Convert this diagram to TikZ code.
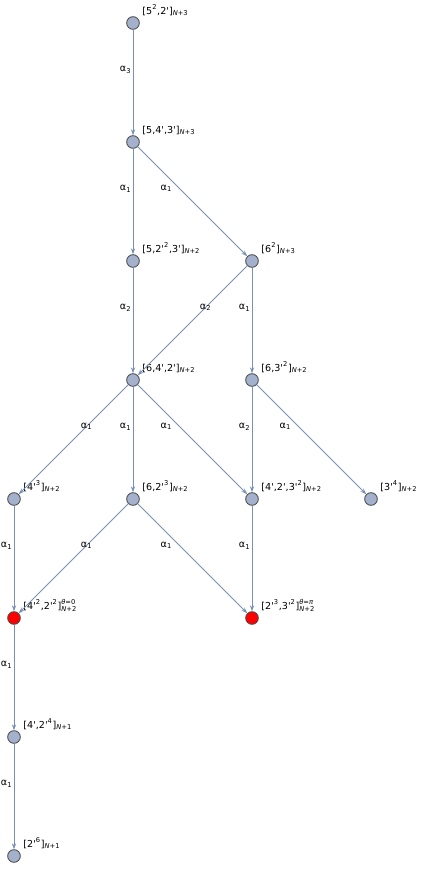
\documentclass[tikz,border=0pt]{standalone}
\usepackage{fontspec}
\newfontfamily\grfont{DejaVu Sans}
\usetikzlibrary{arrows.meta}
\definecolor{vtxfill}{HTML}{A3B1CC}
\definecolor{edgecol}{HTML}{7890B6}
\newcommand{\Nsub}[1]{\textsubscript{\textit{N}+#1}}
\newcommand{\supsub}[2]{\rlap{\raisebox{0.7pt}{\textsuperscript{#1}}}\raisebox{-0.7pt}{\textsubscript{#2}}}
\newcommand{\al}[1]{α\textsubscript{#1}}
\begin{document}
\begin{tikzpicture}[x=0.75pt, y=-0.75pt, font=\grfont\fontsize{7.2}{8.6}\selectfont, line join=round, line cap=round,
    >={Stealth[length=4.5pt,width=3.2pt]},
    vtx/.style={circle, draw=black!70, fill=vtxfill, line width=0.65pt, minimum size=9.5pt, inner sep=0pt, label={[lbl]east:#1}},
    hot/.style={vtx={#1}, fill=red},
    lbl/.style={anchor=base west, inner sep=0.5pt, xshift=1.3pt, yshift=6.75pt},
    tr/.style={->, draw=edgecol, line width=0.65pt},
    vl/.style={pos=0.38, left, inner sep=1pt},
    dl/.style={pos=0.38, inner sep=0pt},
    dr/.style={pos=0.38, inner sep=0pt, xshift=-9.75pt}]
  \useasboundingbox (0,0) rectangle (421,872);
  % states
  \node[vtx={[5\textsuperscript{2},2']\Nsub{3}}] (a) at (133,23) {};
  \node[vtx={[5,4',3']\Nsub{3}}] (b) at (133,142) {};
  \node[vtx={[5,2'\textsuperscript{2},3']\Nsub{2}}] (c) at (133,261) {};
  \node[vtx={[6\textsuperscript{2}]\Nsub{3}}] (d) at (252,261) {};
  \node[vtx={[6,4',2']\Nsub{2}}] (e) at (133,380) {};
  \node[vtx={[6,3'\textsuperscript{2}]\Nsub{2}}] (f) at (252,380) {};
  \node[vtx={[4'\textsuperscript{3}]\Nsub{2}}] (g) at (14,499) {};
  \node[vtx={[6,2'\textsuperscript{3}]\Nsub{2}}] (h) at (133,499) {};
  \node[vtx={[4',2',3'\textsuperscript{2}]\Nsub{2}}] (i) at (252,499) {};
  \node[vtx={[3'\textsuperscript{4}]\Nsub{2}}] (j) at (371,499) {};
  \node[hot={[4'\textsuperscript{2},2'\textsuperscript{2}]\supsub{\textit{θ}=0}{\textit{N}+2}}] (k) at (14,618) {};
  \node[hot={[2'\textsuperscript{3},3'\textsuperscript{2}]\supsub{\textit{θ}=\textit{π}}{\textit{N}+2}}] (l) at (252,618) {};
  \node[vtx={[4',2'\textsuperscript{4}]\Nsub{1}}] (m) at (14,737) {};
  \node[vtx={[2'\textsuperscript{6}]\Nsub{1}}] (n) at (14,856) {};
  % transitions
  \draw[tr] (a) -- node[vl]{\al3} (b);
  \draw[tr] (b) -- node[vl]{\al1} (c);
  \draw[tr] (b) -- node[dr]{\al1} (d);
  \draw[tr] (c) -- node[vl]{\al2} (e);
  \draw[tr] (d) -- node[dl]{\al2} (e);
  \draw[tr] (d) -- node[vl]{\al1} (f);
  \draw[tr] (e) -- node[dl]{\al1} (g);
  \draw[tr] (e) -- node[vl]{\al1} (h);
  \draw[tr] (e) -- node[dr]{\al1} (i);
  \draw[tr] (f) -- node[vl]{\al2} (i);
  \draw[tr] (f) -- node[dr]{\al1} (j);
  \draw[tr] (g) -- node[vl]{\al1} (k);
  \draw[tr] (h) -- node[dl]{\al1} (k);
  \draw[tr] (h) -- node[dr]{\al1} (l);
  \draw[tr] (i) -- node[vl]{\al1} (l);
  \draw[tr] (k) -- node[vl]{\al1} (m);
  \draw[tr] (m) -- node[vl]{\al1} (n);
\end{tikzpicture}
\end{document}
